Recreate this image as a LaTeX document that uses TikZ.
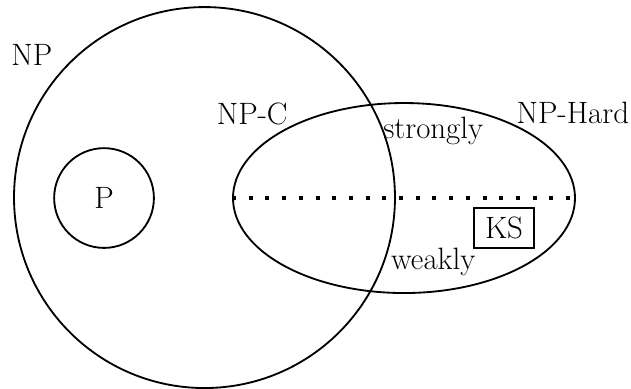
\documentclass[tikz,border=0pt]{standalone}
\usepackage{tikz}
\usetikzlibrary{shapes.geometric,positioning}
\newcommand{\setfont}{\fontsize{18.5}{22}\selectfont}

\begin{document}
\begin{tikzpicture}[
  set/.style={draw, line width=1.1pt, inner sep=0pt},
  lbl/.style={font=\setfont, inner sep=0pt},
  problem/.style={draw, line width=1pt, font=\setfont, minimum width=1.26cm, minimum height=0.84cm},
  split/.style={line width=2.4pt, dash pattern=on 2.4pt off 7.6pt}
]
  \useasboundingbox (0,0) rectangle (13.284,8.189);

  % Sets
  \node[set, circle, minimum size=8.02cm] (np) at (4.305,4.03) {};
  \node[set, circle, minimum size=2.1cm, font=\setfont] (p) at (2.19,4.02) {P};
  \node[set, ellipse, minimum width=7.2cm, minimum height=4cm] (nph) at (8.505,4.02) {};

  % Labels
  \node[lbl] (nplbl) at (0.67,7.03) {NP};
  \node[lbl, anchor=base] (npc) at (5.31,5.56) {NP-C};
  \node[lbl, anchor=base] (nphlbl) at (12.06,5.58) {NP-Hard};
  \node[lbl, anchor=base] (strong) at (9.12,5.28) {strongly};
  \node[lbl, anchor=base] (weak) at (9.12,2.51) {weakly};
  \node[problem] (ks) at (10.61,3.39) {KS};

  % Strong / weak split
  \draw[split] (nph.west) -- (nph.east);
\end{tikzpicture}
\end{document}
